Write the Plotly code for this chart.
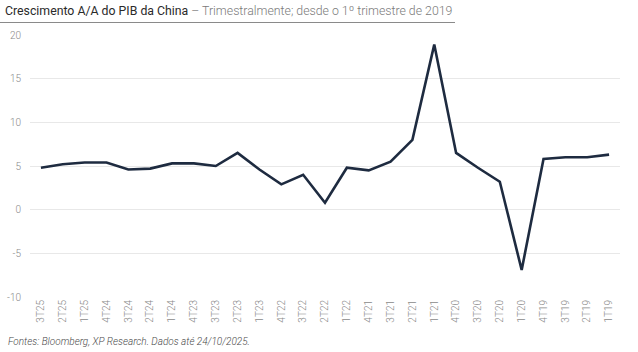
import plotly.graph_objects as go

categories = ["3T25", "2T25", "1T25", "4T24", "3T24", "2T24", "1T24", "4T23", "3T23",
              "2T23", "1T23", "4T22", "3T22", "2T22", "1T22", "4T21", "3T21", "2T21",
              "1T21", "4T20", "3T20", "2T20", "1T20", "4T19", "3T19", "2T19", "1T19"]
gdp_yoy = [4.8, 5.2, 5.4, 5.4, 4.6, 4.7, 5.3, 5.3, 5.0,
           6.5, 4.6, 2.9, 4.0, 0.8, 4.8, 4.5, 5.5, 8.0,
           18.9, 6.5, 4.8, 3.2, -6.9, 5.8, 6.0, 6.0, 6.3]
y_ticks = [-10, -5, 0, 5, 10, 15, 20]
y_tick_labels = ["-10", "-5", "0", "5", "10", "15", "20"]

W, H = 638, 352
ml, mr, mt, mb = 30, 18, 35, 55
pw, ph = W - ml - mr, H - mt - mb

def px_x(x):
    return (x - ml) / pw

def px_y(y):
    return (H - mb - y) / ph

fig = go.Figure()
fig.add_trace(go.Scatter(
    x=categories, y=gdp_yoy, mode="lines",
    line=dict(color="#1e2b40", width=2.6),
    hoverinfo="x+y", showlegend=False,
))

fig.update_layout(
    width=W, height=H,
    margin=dict(l=ml, r=mr, t=mt, b=mb),
    paper_bgcolor="white", plot_bgcolor="white",
    font=dict(family="Roboto", color="#888888", size=10),
    xaxis=dict(
        type="category", categoryorder="array", categoryarray=categories,
        range=[-0.5, len(categories) - 0.5], automargin=False,
        tickangle=-90, showgrid=False, zeroline=False, showline=False,
        ticks="", tickfont=dict(size=10, color="#8a8a8a", weight=300),
    ),
    yaxis=dict(
        range=[-10, 20], tickvals=y_ticks, ticktext=y_tick_labels,
        automargin=False, showgrid=True,
        gridcolor="#e8e8e8", gridwidth=1, zeroline=False, showline=False,
        ticks="", ticklabelstandoff=8, tickfont=dict(size=10, color="#8a8a8a", weight=300),
    ),
    annotations=[
        dict(
            xref="paper", yref="paper", x=px_x(3), y=px_y(11),
            xanchor="left", yanchor="middle", showarrow=False,
            text="<span style='color:#2a2a2a'>Crescimento A/A do PIB da China</span>"
                 "<span style='color:#7a7a7a;font-weight:300'> – Trimestralmente; desde o 1º trimestre de 2019</span>",
            font=dict(family="Roboto", size=12.3),
        ),
        dict(
            xref="paper", yref="paper", x=px_x(6), y=px_y(341),
            xanchor="left", yanchor="middle", showarrow=False,
            text="<i>Fontes: Bloomberg, XP Research. Dados até 24/10/2025.</i>",
            font=dict(family="Roboto", size=10, color="#4a4a4a", weight=300),
        ),
    ],
    shapes=[
        dict(type="line", xref="paper", yref="paper",
             x0=px_x(0), x1=px_x(455), y0=px_y(22.5), y1=px_y(22.5),
             line=dict(color="#8a8a8a", width=1.2)),
    ],
)

fig.write_html("out.html")
